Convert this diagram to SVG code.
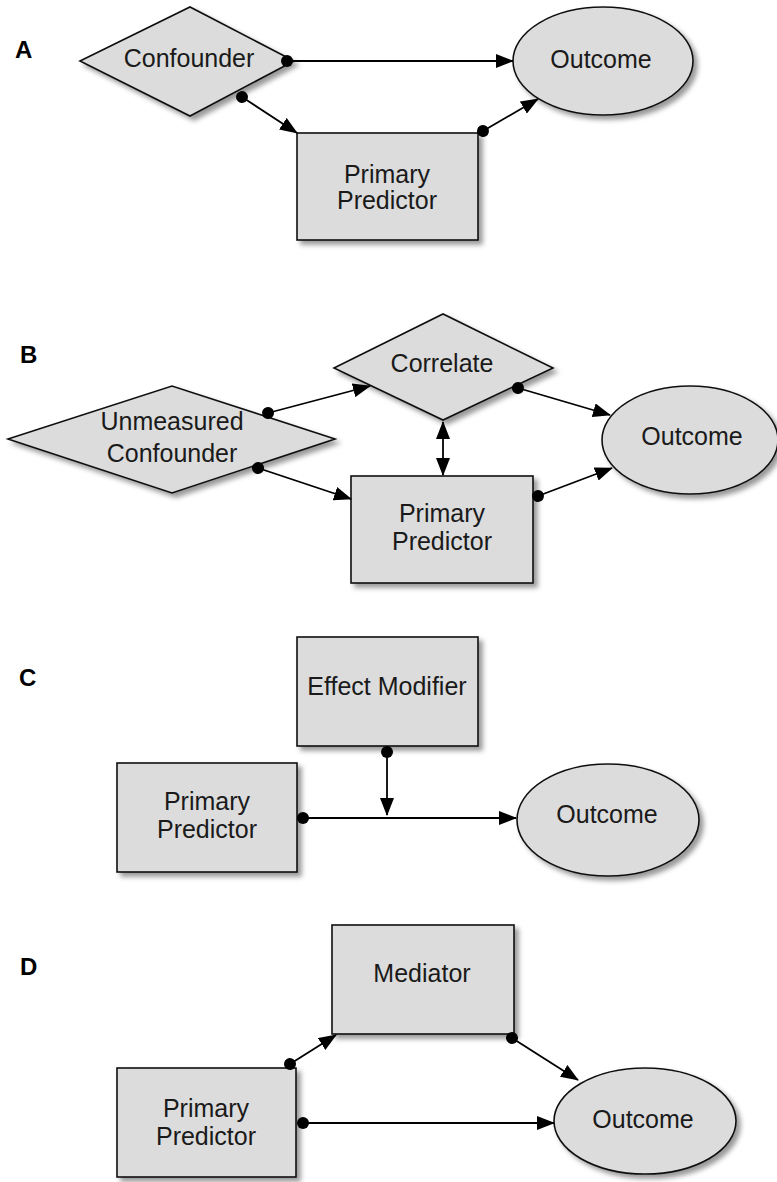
<svg xmlns="http://www.w3.org/2000/svg" width="777" height="1182" viewBox="0 0 777 1182">
<defs>
<style>
.node{fill:#dcdcdc;stroke:#111;stroke-width:1.6;filter:url(#sh)}
.lbl{font-family:"Liberation Sans",Arial,sans-serif;font-size:25px;fill:#1a1a1a;text-anchor:middle}
.panel{font-family:"Liberation Sans",Arial,sans-serif;font-size:24px;font-weight:bold;fill:#000}
.edge{stroke:#000;stroke-width:1.8;fill:none;marker-start:url(#dot);marker-end:url(#arr)}
</style>
<filter id="sh" x="-10%" y="-10%" width="125%" height="130%">
<feDropShadow dx="4" dy="4" stdDeviation="2.5" flood-color="#000" flood-opacity="0.4"/>
</filter>
<marker id="arr" markerUnits="userSpaceOnUse" markerWidth="20" markerHeight="14" refX="17" refY="7" orient="auto-start-reverse">
<path d="M0,0 L18,7 L0,14 z" fill="#000"/>
</marker>
<marker id="dot" markerUnits="userSpaceOnUse" markerWidth="14" markerHeight="14" refX="7" refY="7" orient="auto">
<circle cx="7" cy="7" r="6" fill="#000"/>
</marker>
</defs>
<rect width="777" height="1182" fill="#fff"/>

<g id="panel-labels">
<text class="panel" x="15" y="58">A</text>
<text class="panel" x="20" y="363">B</text>
<text class="panel" x="19" y="686">C</text>
<text class="panel" x="20" y="975">D</text>
</g>

<!-- Panel A -->
<g id="a-confounder">
<polygon class="node" points="80,61 190,7 294,61 190,116"/>
<text class="lbl" x="189" y="67">Confounder</text>
</g>
<g id="a-outcome">
<ellipse class="node" cx="603" cy="61" rx="90" ry="54"/>
<text class="lbl" x="601" y="68">Outcome</text>
</g>
<g id="a-predictor">
<rect class="node" x="297" y="133" width="181" height="107"/>
<text class="lbl" x="387" y="183">Primary</text>
<text class="lbl" x="387" y="209">Predictor</text>
</g>

<!-- Panel B -->
<g id="b-unmeasured">
<polygon class="node" points="8,439 172,386 335,439 172,493"/>
<text class="lbl" x="172" y="430">Unmeasured</text>
<text class="lbl" x="172" y="462">Confounder</text>
</g>
<g id="b-correlate">
<polygon class="node" points="334,368 443,314 553,368 443,420"/>
<text class="lbl" x="442" y="372">Correlate</text>
</g>
<g id="b-outcome">
<ellipse class="node" cx="690" cy="440" rx="88" ry="54"/>
<text class="lbl" x="692" y="445">Outcome</text>
</g>
<g id="b-predictor">
<rect class="node" x="351" y="476" width="182" height="107"/>
<text class="lbl" x="442" y="522">Primary</text>
<text class="lbl" x="442" y="550">Predictor</text>
</g>

<!-- Panel C -->
<g id="c-modifier">
<rect class="node" x="297" y="637" width="181" height="109"/>
<text class="lbl" x="387" y="695">Effect Modifier</text>
</g>
<g id="c-predictor">
<rect class="node" x="117" y="763" width="180" height="109"/>
<text class="lbl" x="207" y="810">Primary</text>
<text class="lbl" x="207" y="838">Predictor</text>
</g>
<g id="c-outcome">
<ellipse class="node" cx="608" cy="820" rx="91" ry="56"/>
<text class="lbl" x="607" y="823">Outcome</text>
</g>

<!-- Panel D -->
<g id="d-mediator">
<rect class="node" x="332" y="925" width="182" height="109"/>
<text class="lbl" x="422" y="982">Mediator</text>
</g>
<g id="d-predictor">
<rect class="node" x="117" y="1068" width="179" height="109"/>
<text class="lbl" x="206" y="1117">Primary</text>
<text class="lbl" x="206" y="1145">Predictor</text>
</g>
<g id="d-outcome">
<ellipse class="node" cx="645" cy="1121" rx="91" ry="53"/>
<text class="lbl" x="643" y="1128">Outcome</text>
</g>

<g id="connectors">
<path class="edge" d="M287,61 L513,61"/>
<path class="edge" d="M242,97 L297,133"/>
<path class="edge" d="M483,131 L538,99"/>

<path class="edge" d="M268,413 L370,386"/>
<path class="edge" d="M258,468 L351,499"/>
<path d="M443,422 L443,475" stroke="#000" stroke-width="1.8" fill="none" marker-start="url(#arr)" marker-end="url(#arr)"/>
<path class="edge" d="M518,388 L610,415"/>
<path class="edge" d="M538,496 L612,468"/>

<path class="edge" d="M303,818 L516,818"/>
<path class="edge" d="M387,752 L387,815"/>

<path class="edge" d="M290,1064 L336,1035"/>
<path class="edge" d="M512,1038 L578,1080"/>
<path class="edge" d="M303,1123 L554,1123"/>
</g>
</svg>
